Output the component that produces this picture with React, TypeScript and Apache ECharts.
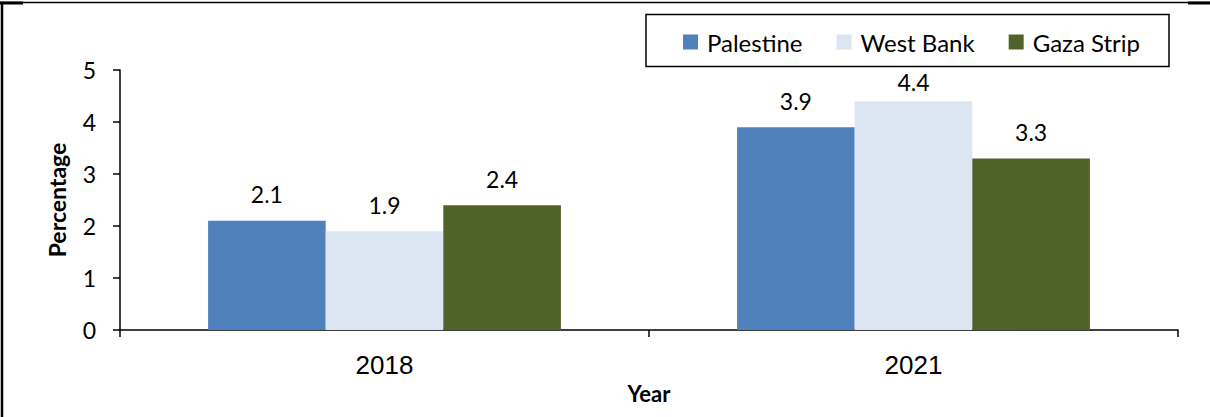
import React, { useEffect, useRef } from "react";
import * as echarts from "echarts";

const categories = ["2018", "2021"];
const palestine = [2.1, 3.9];
const westBank = [1.9, 4.4];
const gazaStrip = [2.4, 3.3];
const seriesNames = ["Palestine", "West Bank", "Gaza Strip"];
const colors = ["#4F81BD", "#DCE6F2", "#4F6228"];

export default function App() {
  const ref = useRef<HTMLDivElement>(null);
  useEffect(() => {
    document.body.style.margin = "0";
    const chart = echarts.init(ref.current!, null, { renderer: "svg" });
    const dataSets = [palestine, westBank, gazaStrip];
    chart.setOption({
      animation: false,
      backgroundColor: "#ffffff",
      grid: { left: 120, right: 32, top: 70, bottom: 87, containLabel: false },
      legend: {
        left: 678,
        top: 25,
        icon: "rect",
        itemWidth: 15,
        itemHeight: 15,
        itemGap: 34,
        textStyle: { fontFamily: "Lato", fontSize: 24, color: "#000", padding: [0, 0, 0, 4] },
        data: seriesNames,
      },
      xAxis: {
        type: "category",
        data: categories,
        name: "Year",
        nameLocation: "middle",
        nameGap: 51,
        nameTextStyle: { fontFamily: "Lato", fontWeight: "bold", fontSize: 22, color: "#000" },
        axisLine: { lineStyle: { color: "#000", width: 1.5 } },
        axisTick: { show: true, length: 7, lineStyle: { color: "#000", width: 1.5 } },
        axisLabel: { fontFamily: "Liberation Sans", fontSize: 26, color: "#000", margin: 22 },
      },
      yAxis: {
        type: "value",
        min: 0,
        max: 5,
        interval: 1,
        name: "Percentage",
        nameLocation: "middle",
        nameGap: 52,
        nameTextStyle: { fontFamily: "Lato", fontWeight: "bold", fontSize: 23, color: "#000" },
        axisLine: { show: true, lineStyle: { color: "#000", width: 1.5 } },
        axisTick: { show: true, length: 7, lineStyle: { color: "#000", width: 1.5 } },
        axisLabel: { fontFamily: "Lato", fontSize: 23, color: "#000", margin: 24 },
        splitLine: { show: false },
      },
      series: dataSets.map((d, i) => ({
        type: "bar",
        name: seriesNames[i],
        data: d.map((v, j) =>
          i === 1 && j === 1 ? { value: v, label: { distance: 8 } } : v
        ),
        barGap: "0%",
        barCategoryGap: "33.3%",
        itemStyle: { color: colors[i] },
        label: {
          show: true,
          position: "top",
          distance: 15,
          fontFamily: "Lato",
          fontSize: 23,
          color: "#000",
          formatter: (p: any) => Number(p.value).toFixed(1),
        },
      })),
      graphic: [
        { type: "line", shape: { x1: 0, y1: 2.5, x2: 1210, y2: 2.5 }, style: { stroke: "#000", lineWidth: 1.5 } },
        { type: "line", shape: { x1: 0, y1: 3, x2: 23, y2: 3 }, style: { stroke: "#000", lineWidth: 3 } },
        { type: "line", shape: { x1: 1188, y1: 3, x2: 1210, y2: 3 }, style: { stroke: "#000", lineWidth: 3 } },
        { type: "line", shape: { x1: 2, y1: 2, x2: 2, y2: 417 }, style: { stroke: "#000", lineWidth: 2.5 } },
        {
          type: "rect",
          shape: { x: 646, y: 14.5, width: 523, height: 52 },
          style: { fill: "none", stroke: "#000", lineWidth: 1.5 },
          z: -1,
        },
      ],
    });
    return () => chart.dispose();
  }, []);
  return <div ref={ref} style={{ width: 1210, height: 417 }} />;
}
